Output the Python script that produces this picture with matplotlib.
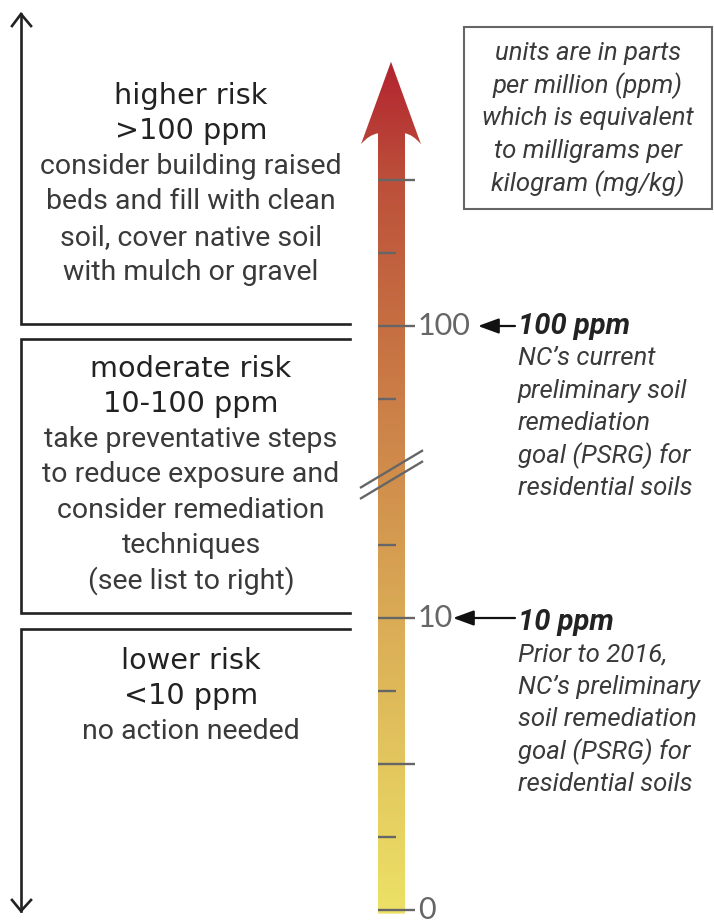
import numpy as np
import matplotlib
matplotlib.use("Agg")
import matplotlib.pyplot as plt
from matplotlib.colors import LinearSegmentedColormap
from matplotlib.path import Path
from matplotlib.patches import PathPatch, Rectangle

# scale data: tick steps (evenly spaced on the drawing), which are long, and labels
tick_steps = [0, 1, 2, 3, 4, 5, 7, 8, 9, 10]
long_steps = [0, 2, 4, 8, 10]
label_steps = [0, 4, 8]
label_text = ["0", "10", "100"]
break_step = 6

# colour stops along the bar (step, colour)
grad_steps = [-0.1, 2, 4, 6, 8, 10, 11.7]
grad_colors = ["#ece266", "#e3c65e", "#daab56", "#d08d4c", "#c66f42", "#bc503a", "#b2222f"]

# risk panels
top_lines = ["higher risk", ">100 ppm", "consider building raised", "beds and fill with clean",
             "soil, cover native soil", "with mulch or gravel"]
mid_lines = ["moderate risk", "10-100 ppm", "take preventative steps", "to reduce exposure and",
             "consider remediation", "techniques", "(see list to right)"]
low_lines = ["lower risk", "<10 ppm", "no action needed"]

# annotations
note100 = ["100 ppm", "NC\u2019s current", "preliminary soil", "remediation",
           "goal (PSRG) for", "residential soils"]
note10 = ["10 ppm", "Prior to 2016,", "NC\u2019s preliminary", "soil remediation",
          "goal (PSRG) for", "residential soils"]
units_lines = ["units are in parts", "per million (ppm)", "which is equivalent",
               "to milligrams per", "kilogram (mg/kg)"]

fig = plt.figure(figsize=(7.14, 9.21), dpi=100)

# layout axes in pixel coords
ax = fig.add_axes([0, 0, 1, 1])
ax.set_xlim(0, 714)
ax.set_ylim(921, 0)
ax.axis("off")

# scale axes: x in pixels, y in tick steps (73 px each, step 0 at 910 px)
sc = fig.add_axes([0, 0, 1, 1], facecolor="none")
sc.set_xlim(0, 714)
sc.set_ylim(-11 / 73, 910 / 73)
sc.axis("off")

# ---- gradient bar with arrow head ----
lo, hi = grad_steps[0], grad_steps[-1]
cmap = LinearSegmentedColormap.from_list(
    "soil", [((s - lo) / (hi - lo), c) for s, c in zip(grad_steps, grad_colors)])
grad = np.linspace(0, 1, 400).reshape(-1, 1)
img = sc.imshow(grad, extent=[355, 425, lo, hi], origin="lower", aspect="auto",
                cmap=cmap, zorder=2)

verts = [(378, -0.05), (405, -0.05), (405, 10.64),
         (413, 10.62), (421, 10.49),
         (391, 11.62), (361, 10.49),
         (369, 10.62), (378, 10.64), (378, -0.05)]
codes = [Path.MOVETO, Path.LINETO, Path.LINETO,
         Path.CURVE3, Path.CURVE3,
         Path.LINETO, Path.LINETO,
         Path.CURVE3, Path.CURVE3, Path.CLOSEPOLY]
clip = PathPatch(Path(verts, codes), transform=sc.transData, facecolor="none", edgecolor="none")
sc.add_patch(clip)
img.set_clip_path(clip)

# ticks
ends = [415 if s in long_steps else 396 for s in tick_steps]
sc.hlines(tick_steps, 378, ends, color="#666666", lw=1.7, zorder=3)
for s, t in zip(label_steps, label_text):
    sc.text(418, s, t, ha="left", va="center", fontsize=22, color="#666666",
            family="Lato")

# axis break marks
sc.plot([361, 422], [break_step - 0.21, break_step + 0.29], color="#666666", lw=1.7, zorder=3)
sc.plot([361, 422], [break_step - 0.36, break_step + 0.14], color="#666666", lw=1.7, zorder=3)

# pointer arrows
arr = dict(arrowstyle="-|>,head_length=0.9,head_width=0.33", color="#111111", lw=1.6,
           shrinkA=0, shrinkB=0, mutation_scale=14)
sc.annotate("", xy=(478, 8), xytext=(515, 8), arrowprops=arr)
sc.annotate("", xy=(453, 4), xytext=(515, 4), arrowprops=arr)

# ---- left brackets / arrow ----
lc = "#222222"
lw = 1.9
ax.plot([21, 21, 350], [14, 324, 324], color=lc, lw=lw, solid_joinstyle="miter")
ax.plot([350, 21, 21, 350], [339, 339, 613, 613], color=lc, lw=lw, solid_joinstyle="miter")
ax.plot([350, 21, 21], [629, 629, 911], color=lc, lw=lw, solid_joinstyle="miter")
ax.plot([12, 21, 31], [26, 14, 26], color=lc, lw=lw, solid_joinstyle="miter")
ax.plot([12, 21, 31], [900, 911, 900], color=lc, lw=lw, solid_joinstyle="miter")

# ---- panel text ----
def panel(lines, y0, step=35.3, x=191):
    for i, t in enumerate(lines):
        if i < 2:
            ax.text(x, y0 + i * step, t, ha="center", va="center", fontsize=20.7,
                    color="#222222", family="DejaVu Sans")
        else:
            ax.text(x, y0 + i * step, t, ha="center", va="center", fontsize=20.5,
                    color="#3a3a3a", family="Roboto")

panel(top_lines, 96)
panel(mid_lines, 369)
panel(low_lines, 661)

def note(lines, y0, step=32.3):
    for i, t in enumerate(lines):
        ax.text(518, y0 + i * step, t, ha="left", va="center",
                fontsize=21 if i == 0 else 18.5,
                color="#222222" if i == 0 else "#3a3a3a", family="Roboto", style="italic",
                fontweight="bold" if i == 0 else "normal")

note(note100, 326)
note(note10, 622)

ax.add_patch(Rectangle((464, 27), 248, 182, facecolor="white", edgecolor="#666666", lw=1.5))
for i, t in enumerate(units_lines):
    ax.text(588, 53 + i * 32.6, t, ha="center", va="center", fontsize=18.5,
            color="#3a3a3a", family="Roboto", style="italic")

fig.savefig("out.png", dpi=100)
